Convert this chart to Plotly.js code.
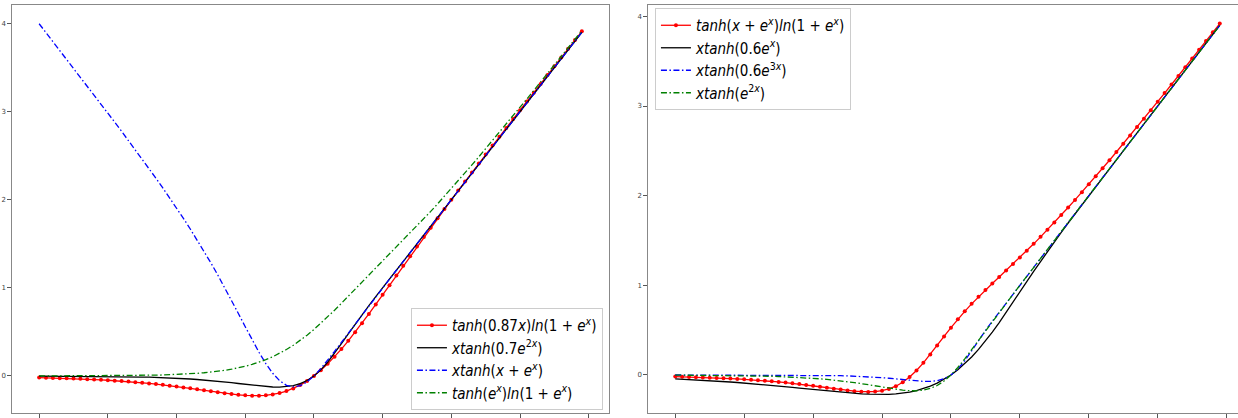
<!DOCTYPE html>
<html>
<head>
<meta charset="utf-8">
<script src="https://cdn.plot.ly/plotly-3.0.1.min.js"></script>
<style>
html,body{margin:0;padding:0;overflow:hidden;background:#fff;}
#chart{width:1250px;height:430px;}
</style>
</head>
<body>
<div id="chart"></div>
<script>
const xVals = [-4.0,-3.9,-3.8,-3.7,-3.6,-3.5,-3.4,-3.3,-3.2,-3.1,-3.0,-2.9,-2.8,-2.7,-2.6,-2.5,-2.4,-2.3,-2.2,-2.1,
-2.0,-1.9,-1.8,-1.7,-1.6,-1.5,-1.4,-1.3,-1.2,-1.1,-1.0,-0.9,-0.8,-0.7,-0.6,-0.5,-0.4,-0.3,-0.2,-0.1,
0.0,0.1,0.2,0.3,0.4,0.5,0.6,0.7,0.8,0.9,1.0,1.1,1.2,1.3,1.4,1.5,1.6,1.7,1.8,1.9,
2.0,2.1,2.2,2.3,2.4,2.5,2.6,2.7,2.8,2.9,3.0,3.1,3.2,3.3,3.4,3.5,3.6,3.7,3.8,3.9];

// Left panel
const leftRed = [-0.0181,-0.0200,-0.0221,-0.0243,-0.0269,-0.0296,-0.0327,-0.0360,-0.0397,-0.0437,
-0.0481,-0.0529,-0.0581,-0.0639,-0.0701,-0.0769,-0.0842,-0.0921,-0.1006,-0.1097,
-0.1193,-0.1295,-0.1402,-0.1512,-0.1625,-0.1738,-0.1849,-0.1955,-0.2052,-0.2135,
-0.2197,-0.2233,-0.2233,-0.2191,-0.2097,-0.1941,-0.1717,-0.1415,-0.1030,-0.0559,
0,0.0646,0.1375,0.2181,0.3055,0.3989,0.4972,0.5995,0.7048,0.8122,
0.9211,1.0307,1.1406,1.2503,1.3596,1.4683,1.5763,1.6834,1.7897,1.8951,
1.9998,2.1037,2.2070,2.3095,2.4116,2.5132,2.6143,2.7151,2.8156,2.9158,
3.0158,3.1156,3.2153,3.3149,3.4144,3.5138,3.6132,3.7125,3.8119,3.9112];

const leftBlack = [-0.0009,-0.0011,-0.0013,-0.0016,-0.0019,-0.0022,-0.0027,-0.0031,-0.0037,-0.0044,
-0.0052,-0.0062,-0.0073,-0.0085,-0.0100,-0.0118,-0.0138,-0.0162,-0.0189,-0.0220,
-0.0256,-0.0298,-0.0344,-0.0397,-0.0456,-0.0523,-0.0596,-0.0675,-0.0761,-0.0852,
-0.0945,-0.1037,-0.1123,-0.1197,-0.1247,-0.1260,-0.1218,-0.1099,-0.0875,-0.0518,
0,0.0694,0.1559,0.2566,0.3660,0.4782,0.5886,0.6952,0.7984,0.8996,
1.0000,1.1000,1.2,1.3,1.4,1.5,1.6,1.7,1.8,1.9,
2.0,2.1,2.2,2.3,2.4,2.5,2.6,2.7,2.8,2.9,
3.0,3.1,3.2,3.3,3.4,3.5,3.6,3.7,3.8,3.9];

const leftBlue = [3.9972,3.8967,3.7960,3.6952,3.5943,3.4932,3.3919,3.2904,3.1885,3.0863,
2.9836,2.8805,2.7767,2.6722,2.5669,2.4606,2.3531,2.2442,2.1336,2.0211,
1.9062,1.7887,1.6681,1.5440,1.4159,1.2835,1.1464,1.0048,0.8589,0.7098,
0.5595,0.4112,0.2696,0.1405,0.0307,-0.0531,-0.1056,-0.1243,-0.1101,-0.0667,
0,0.0835,0.1780,0.2787,0.3822,0.4866,0.5906,0.6939,0.7962,0.8978,
0.9988,1.0994,1.1997,1.2999,1.4000,1.5000,1.6,1.7,1.8,1.9,
2.0,2.1,2.2,2.3,2.4,2.5,2.6,2.7,2.8,2.9,
3.0,3.1,3.2,3.3,3.4,3.5,3.6,3.7,3.8,3.9];

const leftGreen = [0.0003,0.0004,0.0005,0.0006,0.0007,0.0009,0.0011,0.0013,0.0016,0.0020,
0.0024,0.0029,0.0036,0.0044,0.0053,0.0065,0.0079,0.0095,0.0116,0.0141,
0.0171,0.0207,0.0251,0.0303,0.0366,0.0442,0.0533,0.0641,0.0770,0.0923,
0.1103,0.1315,0.1564,0.1852,0.2186,0.2568,0.3002,0.3490,0.4034,0.4631,
0.5279,0.5973,0.6705,0.7467,0.8251,0.9046,0.9846,1.0646,1.1441,1.2231,
1.3019,1.3805,1.4595,1.5390,1.6194,1.7010,1.7837,1.8677,1.9530,2.0394,
2.1269,2.2155,2.3051,2.3955,2.4868,2.5789,2.6716,2.7650,2.8590,2.9536,
3.0486,3.1441,3.2400,3.3362,3.4328,3.5298,3.6270,3.7244,3.8221,3.9200];

// Right panel
const rightRed = [-0.0181,-0.0200,-0.0221,-0.0244,-0.0269,-0.0297,-0.0328,-0.0361,-0.0398,-0.0439,
-0.0483,-0.0532,-0.0585,-0.0644,-0.0707,-0.0776,-0.0851,-0.0932,-0.1019,-0.1112,
-0.1210,-0.1312,-0.1418,-0.1524,-0.1627,-0.1723,-0.1805,-0.1863,-0.1884,-0.1854,
-0.1753,-0.1559,-0.1251,-0.0809,-0.0224,0.0503,0.1354,0.2297,0.3291,0.4296,
0.5279,0.6217,0.7103,0.7936,0.8724,0.9479,1.0213,1.0935,1.1656,1.2382,
1.3117,1.3866,1.4629,1.5409,1.6204,1.7014,1.7839,1.8678,1.9530,2.0394,
2.1269,2.2155,2.3051,2.3955,2.4868,2.5789,2.6716,2.7650,2.8590,2.9536,
3.0486,3.1441,3.2400,3.3362,3.4328,3.5298,3.6270,3.7244,3.8221,3.9200];

const rightBlack = [-0.0440,-0.0474,-0.0510,-0.0549,-0.0590,-0.0634,-0.0681,-0.0730,-0.0782,-0.0838,
-0.0896,-0.0957,-0.1021,-0.1088,-0.1158,-0.1230,-0.1305,-0.1382,-0.1460,-0.1540,
-0.1621,-0.1701,-0.1779,-0.1856,-0.1929,-0.1996,-0.2056,-0.2107,-0.2145,-0.2168,
-0.2172,-0.2153,-0.2106,-0.2026,-0.1907,-0.1743,-0.1527,-0.1252,-0.0910,-0.0495,
0,0.0580,0.1250,0.2009,0.2856,0.3785,0.4788,0.5853,0.6964,0.8106,
0.9262,1.0418,1.1561,1.2686,1.3786,1.4862,1.5916,1.6952,1.7975,1.8988,
1.9994,2.0998,2.1999,2.3000,2.4,2.5,2.6,2.7,2.8,2.9,
3.0,3.1,3.2,3.3,3.4,3.5,3.6,3.7,3.8,3.9];

const rightBlue = [-0.00001,-0.00002,-0.00003,-0.00003,-0.00004,-0.00006,-0.00008,-0.0001,-0.00013,-0.00017,
-0.00022,-0.00029,-0.00038,-0.00049,-0.00064,-0.00083,-0.00108,-0.00139,-0.0018,-0.00231,
-0.00298,-0.00381,-0.00488,-0.00622,-0.0079,-0.0100,-0.0126,-0.0158,-0.0197,-0.0243,
-0.0299,-0.0363,-0.0435,-0.0513,-0.0593,-0.0665,-0.0715,-0.0718,-0.0636,-0.0417,
0,0.0670,0.1596,0.2702,0.3854,0.4954,0.5992,0.6999,0.8,0.9,
1.0,1.1,1.2,1.3,1.4,1.5,1.6,1.7,1.8,1.9,
2.0,2.1,2.2,2.3,2.4,2.5,2.6,2.7,2.8,2.9,
3.0,3.1,3.2,3.3,3.4,3.5,3.6,3.7,3.8,3.9];

const rightGreen = [-0.0013,-0.0016,-0.0019,-0.0023,-0.0027,-0.0032,-0.0038,-0.0045,-0.0053,-0.0063,
-0.0074,-0.0088,-0.0104,-0.0122,-0.0143,-0.0168,-0.0198,-0.0231,-0.0270,-0.0315,
-0.0366,-0.0425,-0.0492,-0.0567,-0.0652,-0.0746,-0.0850,-0.0964,-0.1086,-0.1214,
-0.1345,-0.1474,-0.1594,-0.1692,-0.1754,-0.1761,-0.1685,-0.1499,-0.1170,-0.0674,
0,0.0840,0.1807,0.2847,0.3908,0.4957,0.5984,0.6996,0.7999,0.9,
1.0,1.1,1.2,1.3,1.4,1.5,1.6,1.7,1.8,1.9,
2.0,2.1,2.2,2.3,2.4,2.5,2.6,2.7,2.8,2.9,
3.0,3.1,3.2,3.3,3.4,3.5,3.6,3.7,3.8,3.9];

const xTicks = [-4,-3,-2,-1,0,1,2,3,4];
const yTicks = [0,1,2,3,4];
const yTickText = ['0','1','2','3','4'];

const leftNames = [
  '<i>tanh</i>(0.87<i>x</i>)<i>ln</i>(1 + <i>e<sup>x</sup></i>)',
  '<i>xtanh</i>(0.7<i>e</i><sup>2<i>x</i></sup>)',
  '<i>xtanh</i>(<i>x</i> + <i>e<sup>x</sup></i>)',
  '<i>tanh</i>(<i>e<sup>x</sup></i>)<i>ln</i>(1 + <i>e<sup>x</sup></i>)'
];
const rightNames = [
  '<i>tanh</i>(<i>x</i> + <i>e<sup>x</sup></i>)<i>ln</i>(1 + <i>e<sup>x</sup></i>)',
  '<i>xtanh</i>(0.6<i>e<sup>x</sup></i>)',
  '<i>xtanh</i>(0.6<i>e</i><sup>3<i>x</i></sup>)',
  '<i>xtanh</i>(<i>e</i><sup>2<i>x</i></sup>)'
];

const DASHDOT = '6px,2.5px,1.5px,2.5px';
const LW = 1.3;

function redTrace(y, name, ax, lg){
  return {x:xVals, y:y, name:name, xaxis:ax[0], yaxis:ax[1], legend:lg, type:'scatter',
    mode:'lines+markers', line:{color:'#ff0000', width:LW}, marker:{color:'#ff0000', size:4}};
}
function lineTrace(y, name, color, dash, ax, lg){
  return {x:xVals, y:y, name:name, xaxis:ax[0], yaxis:ax[1], legend:lg, type:'scatter',
    mode:'lines', line:{color:color, width:LW, dash:dash}};
}

const L = ['x','y'], R = ['x2','y2'];
const traces = [
  redTrace(leftRed, leftNames[0], L, 'legend'),
  lineTrace(leftBlack, leftNames[1], '#000000', 'solid', L, 'legend'),
  lineTrace(leftBlue, leftNames[2], '#0000ff', DASHDOT, L, 'legend'),
  lineTrace(leftGreen, leftNames[3], '#008000', DASHDOT, L, 'legend'),
  redTrace(rightRed, rightNames[0], R, 'legend2'),
  lineTrace(rightBlack, rightNames[1], '#000000', 'solid', R, 'legend2'),
  lineTrace(rightBlue, rightNames[2], '#0000ff', DASHDOT, R, 'legend2'),
  lineTrace(rightGreen, rightNames[3], '#008000', DASHDOT, R, 'legend2')
];

function xAxis(domain, anchor){
  return {domain:domain, anchor:anchor, range:[-4.395,4.295], tickvals:xTicks, showticklabels:false,
    ticks:'outside', ticklen:4, tickwidth:1, tickcolor:'#555', showline:true, linecolor:'#888', linewidth:1.2,
    mirror:true, showgrid:false, zeroline:false};
}
function yAxis(range, anchor){
  return {domain:[0,1], anchor:anchor, range:range, tickvals:yTicks, ticktext:yTickText,
    ticks:'outside', ticklen:3.5, tickwidth:1, tickcolor:'#555', showline:true, linecolor:'#888', linewidth:1.2,
    mirror:true, showgrid:false, zeroline:false, tickfont:{size:7, color:'#444'}};
}

const legendBase = {bgcolor:'rgba(255,255,255,0.85)', bordercolor:'#cccccc', borderwidth:1,
  font:{family:'DejaVu Sans Condensed, DejaVu Sans', size:15, color:'#000'}, itemwidth:30, tracegroupgap:0};

const layout = {
  width:1250, height:430,
  margin:{l:12, r:3, t:5, b:17},
  paper_bgcolor:'#ffffff', plot_bgcolor:'#ffffff',
  font:{family:'DejaVu Sans', color:'#000'},
  showlegend:true,
  xaxis: xAxis([0,0.4834],'y'),
  yaxis: yAxis([-0.42,4.21],'x'),
  xaxis2: xAxis([0.515,1],'y2'),
  yaxis2: yAxis([-0.424,4.127],'x2'),
  legend: Object.assign({x:0.4785, y:0.0074, xanchor:'right', yanchor:'bottom'}, legendBase),
  legend2: Object.assign({x:0.5206, y:0.9926, xanchor:'left', yanchor:'top'}, legendBase)
};

Plotly.newPlot('chart', traces, layout, {staticPlot:true, displayModeBar:false});
</script>
</body>
</html>
